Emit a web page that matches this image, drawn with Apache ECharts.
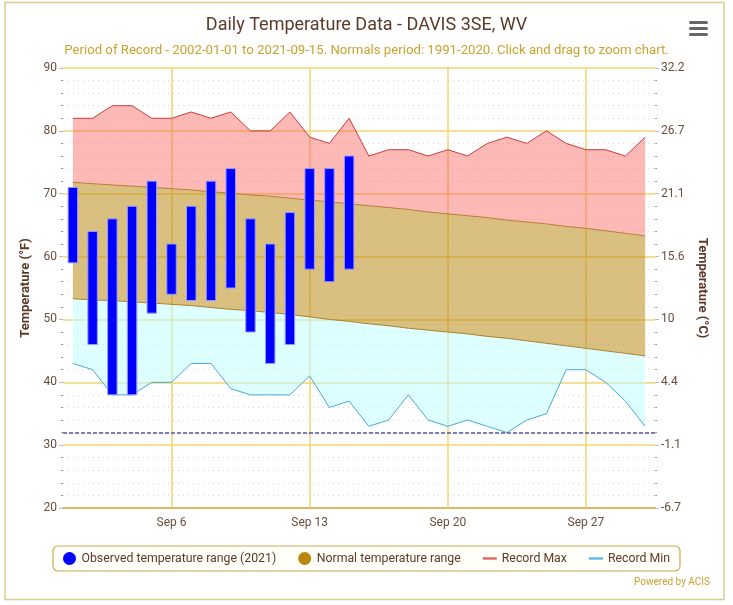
<!DOCTYPE html>
<html>
<head>
<meta charset="utf-8">
<title>Daily Temperature Data - DAVIS 3SE, WV</title>
<script src="https://cdn.jsdelivr.net/npm/echarts@6/dist/echarts.min.js"></script>
<style>
  html, body { margin: 0; padding: 0; background: #fff; }
  #main { width: 733px; height: 605px; }
</style>
</head>
<body>
<div id="main"></div>
<script>
// days of September 2021
var days = ['Sep 1', 'Sep 2', 'Sep 3', 'Sep 4', 'Sep 5', 'Sep 6', 'Sep 7', 'Sep 8', 'Sep 9', 'Sep 10',
    'Sep 11', 'Sep 12', 'Sep 13', 'Sep 14', 'Sep 15', 'Sep 16', 'Sep 17', 'Sep 18', 'Sep 19', 'Sep 20',
    'Sep 21', 'Sep 22', 'Sep 23', 'Sep 24', 'Sep 25', 'Sep 26', 'Sep 27', 'Sep 28', 'Sep 29', 'Sep 30'];
var labelDays = ['Sep 6', 'Sep 13', 'Sep 20', 'Sep 27'];

var recMax = [82, 82, 84, 84, 82, 82, 83, 82, 83, 80, 80, 83, 79, 78, 82, 76, 77, 77, 76, 77,
    76, 78, 79, 78, 80, 78, 77, 77, 76, 79];
var recMin = [43, 42, 38, 38, 40, 40, 43, 43, 39, 38, 38, 38, 41, 36, 37, 33, 34, 38, 34, 33,
    34, 33, 32, 34, 35, 42, 42, 40, 37, 33];
var normMax = [71.8, 71.6, 71.4, 71.2, 71.0, 70.8, 70.6, 70.3, 70.1, 69.8, 69.6, 69.3, 69.0, 68.7, 68.4,
    68.1, 67.8, 67.5, 67.1, 66.8, 66.5, 66.2, 65.8, 65.5, 65.2, 64.8, 64.5, 64.1, 63.7, 63.3];
var normMin = [53.3, 53.1, 53.0, 52.8, 52.6, 52.4, 52.2, 51.9, 51.6, 51.4, 51.1, 50.8, 50.4, 50.0, 49.7,
    49.3, 49.0, 48.6, 48.3, 48.0, 47.7, 47.3, 47.0, 46.6, 46.2, 45.8, 45.4, 45.0, 44.6, 44.2];

// observed 2021 (Sep 1 - Sep 15)
var obsHigh = [71, 64, 66, 68, 72, 62, 68, 72, 74, 66, 62, 67, 74, 74, 76];
var obsLow = [59, 46, 38, 38, 51, 54, 53, 53, 55, 48, 43, 46, 58, 56, 58];

var freezing = 32;
var fLabels = [20, 30, 40, 50, 60, 70, 80, 90];
var cLabels = ['-6.7', '-1.1', '4.4', '10', '15.6', '21.1', '26.7', '32.2'];

var brown = '#5b3a29';
var axisText = '#6b4c3b';
var gold = '#c9a22e';
var gridGold = '#f0d470';

var diff = function (a, b) {
    var out = [];
    for (var i = 0; i < a.length; i++) {
        out.push(+(a[i] - b[i]).toFixed(2));
    }
    return out;
};

var obsData = [];
for (var i = 0; i < obsHigh.length; i++) {
    obsData.push([i, obsLow[i], obsHigh[i]]);
}

var myChart = echarts.init(document.getElementById('main'));

var option = {
    animation: false,
    textStyle: { fontFamily: 'Roboto' },
    title: [{
        text: 'Daily Temperature Data - DAVIS 3SE, WV',
        left: 'center',
        top: 11,
        textStyle: { fontSize: 18, fontWeight: 'normal', color: brown, fontFamily: 'Roboto' }
    }, {
        text: 'Period of Record - 2002-01-01 to 2021-09-15. Normals period: 1991-2020. Click and drag to zoom chart.',
        left: 'center',
        top: 39,
        textStyle: { fontSize: 13.2, fontWeight: 'normal', color: gold, fontFamily: 'Roboto' }
    }],
    legend: {
        bottom: 34,
        left: 'center',
        padding: [6, 10],
        itemGap: 22,
        itemWidth: 14,
        itemHeight: 13,
        borderColor: '#c9ab55',
        borderWidth: 1.2,
        borderRadius: 5,
        backgroundColor: '#fffef8',
        textStyle: { fontSize: 12.3, color: brown },
        data: [
            { name: 'Observed temperature range (2021)', icon: 'circle', itemStyle: { color: '#0000ff' } },
            { name: 'Normal temperature range', icon: 'circle', itemStyle: { color: '#b8860b' } },
            { name: 'Record Max', icon: 'path://M0,0H12V2H0Z', itemStyle: { color: '#e06060' } },
            { name: 'Record Min', icon: 'path://M0,0H12V2H0Z', itemStyle: { color: '#5cb8e8' } }
        ]
    },
    grid: { left: 63, right: 78, top: 68, bottom: 97 },
    xAxis: {
        type: 'category',
        data: days,
        boundaryGap: true,
        axisLine: { lineStyle: { color: '#d4bc5c', width: 2 } },
        axisTick: {
            alignWithLabel: true,
            length: 10,
            lineStyle: { color: '#ccd6eb' },
            interval: function (idx, val) { return labelDays.indexOf(val) >= 0; }
        },
        axisLabel: {
            color: axisText,
            fontSize: 12,
            margin: 9,
            interval: function (idx, val) { return labelDays.indexOf(val) >= 0; }
        },
        splitLine: { show: false }
    },
    yAxis: [{
        type: 'value',
        min: 20,
        max: 90,
        interval: 10,
        name: 'Temperature (°F)',
        nameLocation: 'middle',
        nameGap: 25,
        nameTextStyle: { color: brown, fontSize: 13, fontWeight: 'bold' },
        axisLine: { show: false },
        axisTick: { show: true, length: 4, lineStyle: { color: '#bbb' } },
        minorTick: { show: true, splitNumber: 5, length: 2, lineStyle: { color: '#999' } },
        axisLabel: { color: axisText, fontSize: 12, margin: 6 },
        splitLine: { lineStyle: { color: gridGold, width: 1.5 } },
        minorSplitLine: { show: true, lineStyle: { color: '#d8d8d8', type: [1, 4] } }
    }, {
        type: 'value',
        min: 20,
        max: 90,
        interval: 10,
        position: 'right',
        name: 'Temperature (°C)',
        nameLocation: 'middle',
        nameGap: 37,
        nameRotate: -90,
        nameTextStyle: { color: brown, fontSize: 13, fontWeight: 'bold' },
        axisLine: { show: false },
        axisTick: { show: true, length: 4, lineStyle: { color: '#bbb' } },
        minorTick: { show: true, splitNumber: 5, length: 2, lineStyle: { color: '#999' } },
        axisLabel: {
            color: axisText,
            fontSize: 12,
            margin: 6,
            formatter: function (v) { return cLabels[fLabels.indexOf(v)]; }
        },
        splitLine: { show: false }
    }],
    series: [{
        name: 'Record Min',
        type: 'line',
        stack: 'band',
        data: recMin,
        symbol: 'none',
        z: 3,
        lineStyle: { color: '#48a8d8', width: 1 },
        itemStyle: { color: '#5cb8e8' },
        markLine: {
            silent: true,
            symbol: 'none',
            z: 1,
            label: { show: false },
            lineStyle: { color: gridGold, width: 1.5, type: 'solid' },
            data: labelDays.map(function (d) { return { xAxis: d }; })
        }
    }, {
        name: 'normLow',
        type: 'line',
        stack: 'band',
        data: diff(normMin, recMin),
        symbol: 'none',
        z: 2,
        lineStyle: { color: '#a8822a', width: 1 },
        areaStyle: { color: 'rgba(190,255,255,0.5)', opacity: 1 }
    }, {
        name: 'Normal temperature range',
        type: 'line',
        stack: 'band',
        data: diff(normMax, normMin),
        symbol: 'none',
        z: 2,
        lineStyle: { color: '#a8822a', width: 1 },
        itemStyle: { color: '#b8860b' },
        areaStyle: { color: 'rgba(184,134,11,0.52)', opacity: 1 }
    }, {
        name: 'Record Max',
        type: 'line',
        stack: 'band',
        data: diff(recMax, normMax),
        symbol: 'none',
        z: 3,
        lineStyle: { color: '#cc3a3a', width: 1 },
        itemStyle: { color: '#e06060' },
        areaStyle: { color: 'rgba(248,100,90,0.45)', opacity: 1 },
        markLine: {
            silent: true,
            symbol: 'none',
            z: 4,
            label: { show: false },
            lineStyle: { color: '#55559a', width: 1.5, type: [4, 2] },
            data: [{ yAxis: freezing }]
        }
    }, {
        name: 'Observed temperature range (2021)',
        type: 'custom',
        z: 6,
        itemStyle: { color: '#0000ff' },
        data: obsData,
        encode: { x: 0, y: [1, 2] },
        renderItem: function (params, api) {
            var lo = api.coord([api.value(0), api.value(1)]);
            var hi = api.coord([api.value(0), api.value(2)]);
            var w = api.size([1, 0])[0] * 0.48;
            return {
                type: 'rect',
                shape: { x: hi[0] - w / 2, y: hi[1], width: w, height: lo[1] - hi[1] },
                style: { fill: '#0000ff', stroke: '#9a9aff', lineWidth: 1 }
            };
        }
    }],
    graphic: [{
        type: 'rect',
        shape: { x: 5, y: 2.5, width: 719, height: 597 },
        style: { fill: 'none', stroke: '#dccb8f', lineWidth: 1.5 },
        silent: true
    }, {
        type: 'group',
        left: 689,
        top: 21,
        children: [
            { type: 'rect', shape: { x: 0, y: 0, width: 19, height: 3, r: 1.5 }, style: { fill: '#666' } },
            { type: 'rect', shape: { x: 0, y: 6, width: 19, height: 3, r: 1.5 }, style: { fill: '#666' } },
            { type: 'rect', shape: { x: 0, y: 12, width: 19, height: 3, r: 1.5 }, style: { fill: '#666' } }
        ]
    }, {
        type: 'text',
        right: 23,
        top: 577,
        style: { text: 'Powered by ACIS', fill: gold, fontSize: 10, fontFamily: 'Roboto' }
    }]
};

myChart.setOption(option);
</script>
</body>
</html>
